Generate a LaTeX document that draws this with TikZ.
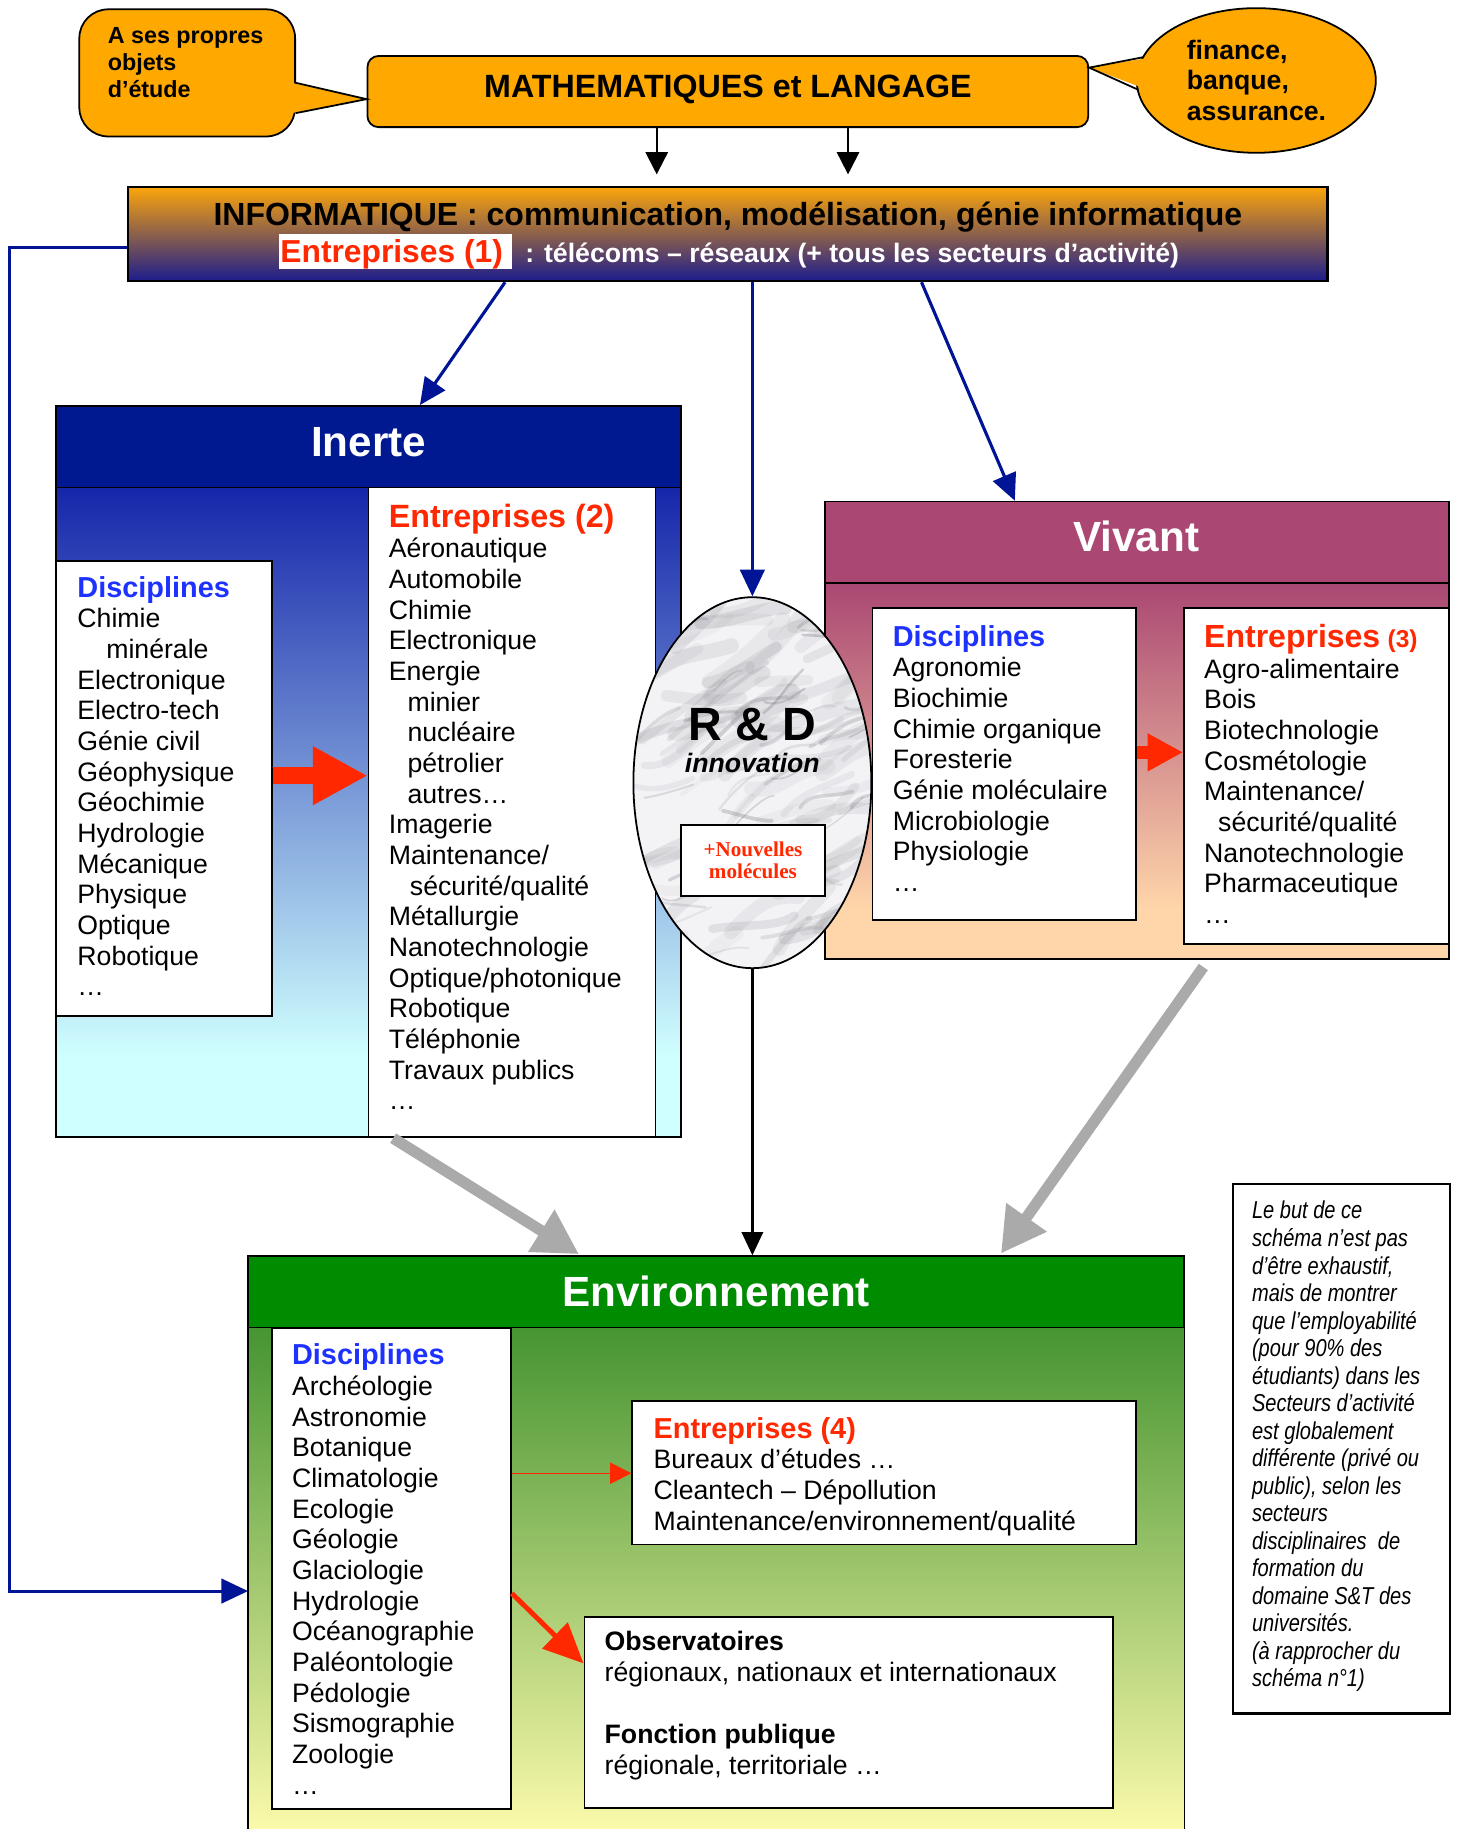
\documentclass[tikz,border=0pt]{standalone}
\usepackage{fontspec}
\setmainfont{Liberation Sans}
\newfontfamily\timesf{Liberation Serif}
\newfontfamily\narrowf[FakeStretch=0.82]{Liberation Sans}
\usetikzlibrary{arrows.meta,shapes.geometric,fit}

\definecolor{orng}{RGB}{255,168,0}
\definecolor{infotop}{RGB}{252,165,10}
\definecolor{infomid}{RGB}{195,125,118}
\definecolor{infobot}{RGB}{28,28,140}
\definecolor{navyc}{RGB}{0,20,150}
\definecolor{inhead}{RGB}{0,25,145}
\definecolor{intop}{RGB}{22,38,170}
\definecolor{inbot}{RGB}{208,255,255}
\definecolor{vihead}{RGB}{170,72,115}
\definecolor{vibot}{RGB}{255,214,170}
\definecolor{envhead}{RGB}{0,140,0}
\definecolor{envtop}{RGB}{70,148,50}
\definecolor{envbot}{RGB}{250,250,170}
\definecolor{redc}{RGB}{255,40,0}
\definecolor{bluc}{RGB}{30,50,255}
\definecolor{gry}{RGB}{170,170,170}
\definecolor{marb}{RGB}{243,243,246}
\definecolor{vein}{RGB}{120,120,128}

\newcommand\fs[2]{\fontsize{#1}{#2}\selectfont}
\newcommand\lst[1]{\begin{tabular}[t]{@{}l@{}}#1\end{tabular}}
\newcommand\dtitle[1]{{\fs{13}{13.8}\bfseries\color{bluc}#1}}
\newcommand\etitle[1]{{\fs{14.5}{13.8}\bfseries\color{redc}#1}}

\begin{document}
\begin{tikzpicture}[x=0.525pt,y=-0.525pt,
  box/.style={draw=black, line width=0.8pt, inner sep=0pt},
  wbox/.style={box, fill=white},
  lst/.style={anchor=base west, inner sep=0pt, font=\fs{12}{13.8}},
  hdr/.style={anchor=base, text=white, font=\fs{19}{22}\bfseries, inner sep=0pt},
  bluearr/.style={draw=navyc, line width=1.4pt, -{Triangle[length=12pt,width=11pt]}},
  blkarr/.style={draw=black, line width=0.9pt, -{Triangle[length=10pt,width=10pt]}},
  blkarrb/.style={draw=black, line width=1.4pt, -{Triangle[length=10.5pt,width=9.5pt]}},
  grayarr/.style={draw=gry, line width=5pt, -{Triangle[length=20pt,width=21pt]}},
  redblk/.style={draw=redc, line width=7.7pt, -{Triangle[length=24.7pt,width=24.7pt]}},
  redblks/.style={draw=redc, line width=5.8pt, -{Triangle[length=16pt,width=16pt]}},
  redthin/.style={draw=redc, line width=0.6pt, -{Triangle[length=9.5pt,width=9.5pt]}},
  reddiag/.style={draw=redc, line width=2.2pt, -{Triangle[length=18pt,width=16pt]}}
]
\useasboundingbox (0,0) rectangle (1249,1568);
\fill[white] (0,0) rectangle (1249,1568);

% helper coordinates
\coordinate (xa) at (563,0);
\coordinate (xb) at (727,0);
\coordinate (cA) at (433,0);
\coordinate (cB) at (360,0);
\coordinate (cC) at (790,0);
\coordinate (cD) at (870,0);
\coordinate (cE) at (337,0);
\coordinate (cF) at (498,0);
\coordinate (cG) at (1036,0);
\coordinate (cH) at (857,0);
\coordinate (yL) at (0,212);
\coordinate (lcorner) at (8,1364);
\coordinate (yR1) at (0,665);
\coordinate (yR2) at (0,645);
\coordinate (yR3) at (0,1263);
\coordinate (yR4) at (0,1366);
\coordinate (yR5) at (0,1426);
\coordinate (ltip) at (0,85);
\coordinate (rtip) at (0,58);

% ---------- top: callouts and MATH ----------
\node[box, fill=orng, rounded corners=13pt, fit={(68,8)(253,117)}] (lcall) {};
\node[box, fill=orng, rounded corners=5pt, fit={(315,48)(933,109)}] (math) {};
\node[ellipse, box, fill=orng, minimum width=107.6pt, minimum height=65.1pt] (rcall) at (1077,69) {};
\fill[orng] (250,71) -- (math.west |- ltip) -- (250,97) -- cycle;
\draw[line width=0.8pt] (253.5,71) -- (math.west |- ltip) -- (253.5,97);
\fill[orng] (math.east |- rtip) -- (988,49) -- (984,77) -- cycle;
\draw[line width=0.8pt] (980.4,49) -- (math.east |- rtip) -- (975.9,77);

\node[anchor=base west, inner sep=0pt, font=\fs{10.5}{12.3}\bfseries] (lcallT) at (92,37) {\lst{A ses propres\\objets\\d’étude}};
\node[anchor=base west, inner sep=0pt, font=\fs{12}{13.65}\bfseries] (rcallT) at (1017,51) {\lst{finance,\\banque,\\assurance.}};
\node[anchor=base, inner sep=0pt, font=\fs{14.5}{16}\bfseries] (mathT) at (624,84) {MATHEMATIQUES et LANGAGE};

% ---------- INFORMATIQUE ----------
\shade[top color=infotop, middle color=infomid, bottom color=infobot] (110,160) rectangle (1138,241);
\node[box, line width=1pt, fit={(110,160)(1138,241)}] (info) {};
\node[anchor=base, inner sep=0pt, font=\fs{14.4}{16}\bfseries] (infoT) at (624,193) {INFORMATIQUE : communication, modélisation, génie informatique};
\node[fill=white, inner sep=0pt, fit={(239,201)(439,231)}] (e1box) {};
\node[anchor=base west, inner sep=0pt, font=\fs{14.3}{16}\bfseries, text=redc] (e1T) at (240,225) {Entreprises (1)};
\node[anchor=base west, inner sep=0pt, font=\fs{12}{14}\bfseries, text=white] (e1S) at (450,225) {: télécoms – réseaux (+ tous les secteurs d’activité)};

\draw[blkarr, shorten >=5pt] (math.south -| xa) -- (info.north -| xa);
\draw[blkarr, shorten >=5pt] (math.south -| xb) -- (info.north -| xb);

% ---------- INERTE ----------
\shade[top color=intop, bottom color=inbot] (48,418) rectangle (584,905);
\fill[inbot] (48,904.5) rectangle (584,975);
\node[box, fit={(48,348)(584,975)}] (inerte) {};
\node[box, fill=inhead, fit={(48,348)(584,418)}] (inerteH) {};
\node[hdr] (inerteT) at (316,391) {Inerte};
\node[wbox, fit={(48,481)(233,871)}] (discI) {};
\node[wbox, fit={(316,418)(562,975)}] (entI) {};
\node[lst] (discIT) at (66,512) {\lst{\dtitle{Disciplines}\\Chimie\\\hspace*{13pt}minérale\\Electronique\\Electro-tech\\Génie civil\\Géophysique\\Géochimie\\Hydrologie\\Mécanique\\Physique\\Optique\\Robotique\\…}};
\node[lst] (entIT) at (333,452) {\lst{\etitle{Entreprises (2)}\\Aéronautique\\Automobile\\Chimie\\Electronique\\Energie\\\hspace*{8.4pt}minier\\\hspace*{8.4pt}nucléaire\\\hspace*{8.4pt}pétrolier\\\hspace*{8.4pt}autres…\\Imagerie\\Maintenance/\\\hspace*{9.5pt}sécurité/qualité\\Métallurgie\\Nanotechnologie\\Optique/photonique\\Robotique\\Téléphonie\\Travaux publics\\…}};
\draw[redblk] (discI.east |- yR1) -- (entI.west |- yR1);

% ---------- VIVANT ----------
\shade[top color=vihead, bottom color=vibot] (707,500) rectangle (1242,780);
\fill[vibot] (707,779.5) rectangle (1242,822);
\node[box, fit={(707,430)(1242,822)}] (vivant) {};
\node[box, fill=vihead, fit={(707,430)(1242,500)}] (vivantH) {};
\node[hdr] (vivantT) at (974,473) {Vivant};
\node[wbox, fit={(748,521)(974,789)}] (discV) {};
\node[wbox, fit={(1015,521)(1242,809)}] (entV) {};
\node[lst] (discVT) at (765,554) {\lst{\dtitle{Disciplines}\\Agronomie\\Biochimie\\Chimie organique\\Foresterie\\Génie moléculaire\\Microbiologie\\Physiologie\\…}};
\node[lst] (entVT) at (1032,555) {\lst{{\color{redc}\bfseries{\fs{14.4}{13.8}Entreprises} {\fs{11}{13.8}(3)}}\\Agro-alimentaire\\Bois\\Biotechnologie\\Cosmétologie\\Maintenance/\\\hspace*{6.3pt}sécurité/qualité\\Nanotechnologie\\Pharmaceutique\\…}};
\draw[redblks] (discV.east |- yR2) -- (entV.west |- yR2);

% ---------- R & D ----------
\begin{scope}
  \clip (645,671) ellipse [x radius=102, y radius=159];
  \fill[marb] (540,505) rectangle (750,835);
  \pgfmathsetseed{42}
  \foreach \i in {1,...,90}{
    \pgfmathsetmacro\xa{530+200*rnd}
    \pgfmathsetmacro\ya{520+330*rnd}
    \pgfmathsetmacro\xb{\xa+10+20*rnd}
    \pgfmathsetmacro\yb{\ya-25+30*rnd}
    \pgfmathsetmacro\xc{\xb+8+20*rnd}
    \pgfmathsetmacro\yc{\yb-25+30*rnd}
    \pgfmathsetmacro\xd{\xc+10+20*rnd}
    \pgfmathsetmacro\yd{\yc-20+24*rnd}
    \pgfmathsetmacro\lw{2+5*rnd}
    \pgfmathsetmacro\op{0.05+0.1*rnd}
    \draw[vein, line width=\lw pt, opacity=\op, line cap=round] (\xa,\ya) .. controls (\xb,\yb) and (\xc,\yc) .. (\xd,\yd);
  }
  \foreach \i in {1,...,45}{
    \pgfmathsetmacro\xa{530+200*rnd}
    \pgfmathsetmacro\ya{520+330*rnd}
    \pgfmathsetmacro\xb{\xa+6+14*rnd}
    \pgfmathsetmacro\yb{\ya-18+24*rnd}
    \pgfmathsetmacro\xc{\xb+6+14*rnd}
    \pgfmathsetmacro\yc{\yb-18+24*rnd}
    \pgfmathsetmacro\xd{\xc+6+14*rnd}
    \pgfmathsetmacro\yd{\yc-14+18*rnd}
    \pgfmathsetmacro\lw{0.6+1.2*rnd}
    \pgfmathsetmacro\op{0.12+0.2*rnd}
    \draw[vein, line width=\lw pt, opacity=\op, line cap=round] (\xa,\ya) .. controls (\xb,\yb) and (\xc,\yc) .. (\xd,\yd);
  }
\end{scope}
\node[ellipse, draw, line width=0.8pt, inner sep=0pt, minimum width=107.1pt, minimum height=166.95pt] (rd) at (645,671) {};
\node[anchor=base, inner sep=0pt, font=\fs{21}{24}\bfseries] (rdT) at (645,635) {R \& D};
\node[anchor=base, inner sep=0pt, font=\fs{12}{14}\bfseries\itshape] (rdI) at (645,662) {innovation};
\node[wbox, fit={(584,707)(707,768)}] (nm) {};
\node[inner sep=0pt, align=center, text=redc, font=\timesf\bfseries\fs{9.5}{9.6}] (nmT) at (nm.center) {+Nouvelles\\molécules};

% ---------- ENVIRONNEMENT ----------
\shade[top color=envtop, bottom color=envbot] (213,1138) rectangle (1015,1568);
\node[inner sep=0pt, fit={(213,1077)(1015,1568)}] (env) {};
\draw[line width=0.8pt] (env.south west) -- (env.north west) -- (env.north east) -- (env.south east);
\node[box, fill=envhead, fit={(213,1077)(1015,1138)}] (envH) {};
\node[hdr] (envT) at (614,1120) {Environnement};
\node[wbox, fit={(233,1139)(438,1551)}] (discE) {};
\node[wbox, fit={(542,1201)(974,1324)}] (ent4) {};
\node[wbox, fit={(501,1386)(954,1550)}] (obs) {};
\node[lst] (discET) at (250,1170) {\lst{\dtitle{Disciplines}\\Archéologie\\Astronomie\\Botanique\\Climatologie\\Ecologie\\Géologie\\Glaciologie\\Hydrologie\\Océanographie\\Paléontologie\\Pédologie\\Sismographie\\Zoologie\\…}};
\node[lst] (ent4T) at (560,1233) {\lst{{\fs{13}{13.8}\bfseries\color{redc}Entreprises (4)}\\Bureaux d’études …\\Cleantech – Dépollution\\Maintenance/environnement/qualité}};
\node[anchor=base west, inner sep=0pt, font=\fs{12}{13.9}] (obsT) at (518,1415) {\lst{\textbf{Observatoires}\\régionaux, nationaux et internationaux\\ \\\textbf{Fonction publique}\\régionale, territoriale …}};
\draw[redthin] (discE.east |- yR3) -- (ent4.west |- yR3);
\draw[reddiag] (discE.east |- yR4) -- (obs.west |- yR5);

% ---------- note ----------
\node[box, line width=1pt, fit={(1057,1015)(1243,1469)}] (note) {};
\node[anchor=base west, inner sep=0pt, font=\narrowf\itshape\fs{11}{12.39}] (noteT) at (1073,1045) {\lst{Le but de ce\\schéma n’est pas\\d’être exhaustif,\\mais de montrer\\que l’employabilité\\(pour 90\% des\\étudiants) dans les\\Secteurs d’activité\\est globalement\\différente (privé ou\\public), selon les\\secteurs\\disciplinaires\ \ de\\formation du\\domaine S\&T des\\universités.\\(à rapprocher du\\schéma n°1)}};

% ---------- connectors ----------
\draw[bluearr] (info.south -| cA) -- (inerteH.north -| cB);
\draw[bluearr] (info.south -| rd.north) -- (rd.north);
\draw[bluearr] (info.south -| cC) -- (vivantH.north -| cD);
\draw[bluearr] (info.west |- yL) -| (lcorner) -- (env.west |- lcorner);
\draw[blkarrb] (rd.south) -- (envH.north -| rd.south);
\draw[grayarr, shorten >=1pt] (inerte.south -| cE) -- (envH.north -| cF);
\draw[grayarr, shorten <=4pt, shorten >=1pt] (vivant.south -| cG) -- (envH.north -| cH);
\end{tikzpicture}
\end{document}
